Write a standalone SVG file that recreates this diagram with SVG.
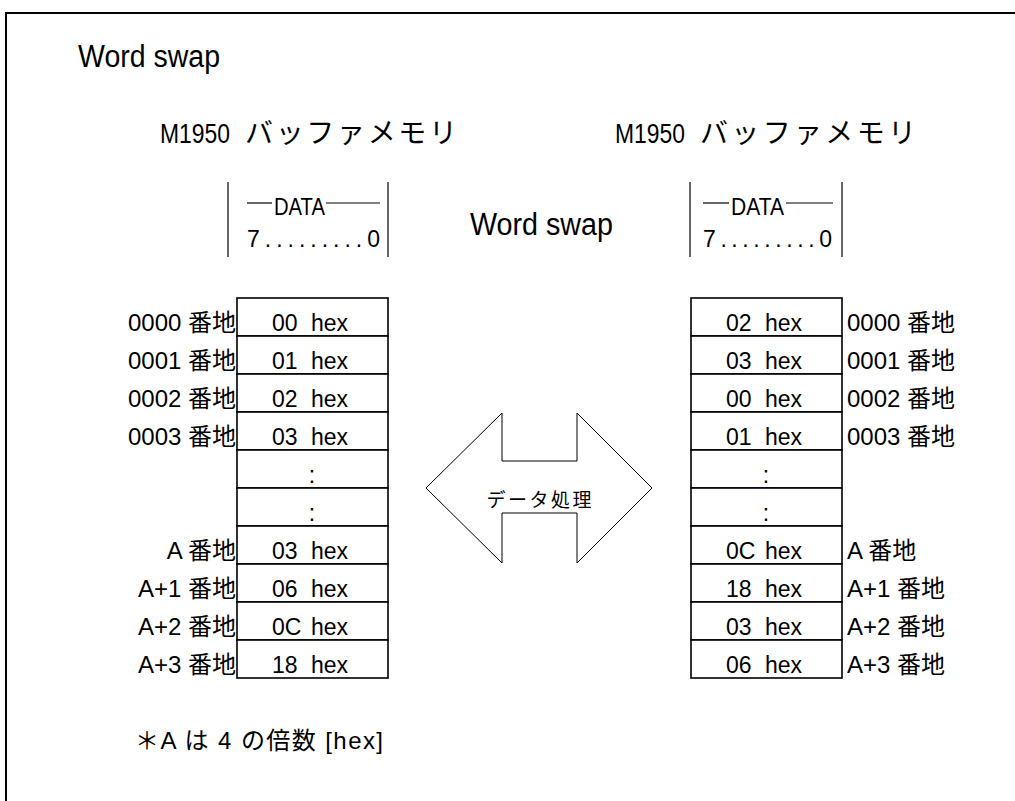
<svg xmlns="http://www.w3.org/2000/svg" width="1015" height="801" viewBox="0 0 1015 801">
<style>
text{font-family:"Liberation Sans","Noto Sans CJK JP",sans-serif;fill:#000}
.t{font-size:31px}
.h{font-size:28px}
.d{font-size:23px}
.c{font-size:23px}
.l{font-size:24px;text-anchor:end}
.r{font-size:24px}
.dot{font-size:23px;text-anchor:middle}
.jp{font-family:"Noto Sans CJK JP",sans-serif}
.cell{fill:#fff;stroke:#000;stroke-width:1.6}
.ln{stroke:#000;stroke-width:1.2;fill:none}
</style>
<rect x="0" y="0" width="1015" height="801" fill="#fff"/>
<path d="M1020,13 H6 V806" fill="none" stroke="#000" stroke-width="2"/>
<g id="title"><text class="t" x="78" y="67" textLength="142" lengthAdjust="spacingAndGlyphs">Word swap</text></g>
<g id="header-left"><text class="h" y="143"><tspan x="160" textLength="70" lengthAdjust="spacingAndGlyphs">M1950</tspan><tspan class="jp" x="245" textLength="212">バッファメモリ</tspan></text></g>
<g id="header-right"><text class="h" y="143"><tspan x="615" textLength="70" lengthAdjust="spacingAndGlyphs">M1950</tspan><tspan class="jp" x="700" textLength="216">バッファメモリ</tspan></text></g>
<g id="data-left">
<line class="ln" x1="228" y1="182" x2="228" y2="257"/>
<line class="ln" x1="388" y1="182" x2="388" y2="257"/>
<line class="ln" x1="247" y1="203" x2="272" y2="203"/>
<line class="ln" x1="326" y1="203" x2="380" y2="203"/>
<text class="d" x="274" y="215" textLength="51" lengthAdjust="spacingAndGlyphs">DATA</text>
<text class="d" x="247" y="247" textLength="133">7.........0</text>
</g>
<g id="data-right">
<line class="ln" x1="690" y1="182" x2="690" y2="257"/>
<line class="ln" x1="842" y1="182" x2="842" y2="257"/>
<line class="ln" x1="703" y1="203" x2="729" y2="203"/>
<line class="ln" x1="786" y1="203" x2="833" y2="203"/>
<text class="d" x="731" y="215" textLength="53" lengthAdjust="spacingAndGlyphs">DATA</text>
<text class="d" x="703" y="247" textLength="129">7.........0</text>
</g>
<g id="mid-label"><text class="t" x="470" y="235" textLength="143" lengthAdjust="spacingAndGlyphs">Word swap</text></g>
<g id="table-left">
<rect class="cell" x="237" y="298" width="151" height="38"/>
<rect class="cell" x="237" y="336" width="151" height="38"/>
<rect class="cell" x="237" y="374" width="151" height="38"/>
<rect class="cell" x="237" y="412" width="151" height="38"/>
<rect class="cell" x="237" y="450" width="151" height="38"/>
<rect class="cell" x="237" y="488" width="151" height="38"/>
<rect class="cell" x="237" y="526" width="151" height="38"/>
<rect class="cell" x="237" y="564" width="151" height="38"/>
<rect class="cell" x="237" y="602" width="151" height="38"/>
<rect class="cell" x="237" y="640" width="151" height="38"/>
<text class="c" y="331"><tspan x="272">00</tspan><tspan x="311">hex</tspan></text>
<text class="c" y="369"><tspan x="272">01</tspan><tspan x="311">hex</tspan></text>
<text class="c" y="407"><tspan x="272">02</tspan><tspan x="311">hex</tspan></text>
<text class="c" y="445"><tspan x="272">03</tspan><tspan x="311">hex</tspan></text>
<text class="dot" x="312" y="483">:</text>
<text class="dot" x="312" y="521">:</text>
<text class="c" y="559"><tspan x="272">03</tspan><tspan x="311">hex</tspan></text>
<text class="c" y="597"><tspan x="272">06</tspan><tspan x="311">hex</tspan></text>
<text class="c" y="635"><tspan x="272">0C</tspan><tspan x="311">hex</tspan></text>
<text class="c" y="673"><tspan x="272">18</tspan><tspan x="311">hex</tspan></text>
</g>
<g id="labels-left">
<text class="l" x="236" y="331">0000 番地</text>
<text class="l" x="236" y="369">0001 番地</text>
<text class="l" x="236" y="407">0002 番地</text>
<text class="l" x="236" y="445">0003 番地</text>
<text class="l" x="236" y="559">A 番地</text>
<text class="l" x="236" y="597">A+1 番地</text>
<text class="l" x="236" y="635">A+2 番地</text>
<text class="l" x="236" y="673">A+3 番地</text>
</g>
<g id="table-right">
<rect class="cell" x="691" y="298" width="151" height="38"/>
<rect class="cell" x="691" y="336" width="151" height="38"/>
<rect class="cell" x="691" y="374" width="151" height="38"/>
<rect class="cell" x="691" y="412" width="151" height="38"/>
<rect class="cell" x="691" y="450" width="151" height="38"/>
<rect class="cell" x="691" y="488" width="151" height="38"/>
<rect class="cell" x="691" y="526" width="151" height="38"/>
<rect class="cell" x="691" y="564" width="151" height="38"/>
<rect class="cell" x="691" y="602" width="151" height="38"/>
<rect class="cell" x="691" y="640" width="151" height="38"/>
<text class="c" y="331"><tspan x="726">02</tspan><tspan x="765">hex</tspan></text>
<text class="c" y="369"><tspan x="726">03</tspan><tspan x="765">hex</tspan></text>
<text class="c" y="407"><tspan x="726">00</tspan><tspan x="765">hex</tspan></text>
<text class="c" y="445"><tspan x="726">01</tspan><tspan x="765">hex</tspan></text>
<text class="dot" x="766" y="483">:</text>
<text class="dot" x="766" y="521">:</text>
<text class="c" y="559"><tspan x="726">0C</tspan><tspan x="765">hex</tspan></text>
<text class="c" y="597"><tspan x="726">18</tspan><tspan x="765">hex</tspan></text>
<text class="c" y="635"><tspan x="726">03</tspan><tspan x="765">hex</tspan></text>
<text class="c" y="673"><tspan x="726">06</tspan><tspan x="765">hex</tspan></text>
</g>
<g id="labels-right">
<text class="r" x="847" y="331">0000 番地</text>
<text class="r" x="847" y="369">0001 番地</text>
<text class="r" x="847" y="407">0002 番地</text>
<text class="r" x="847" y="445">0003 番地</text>
<text class="r" x="847" y="559">A 番地</text>
<text class="r" x="847" y="597">A+1 番地</text>
<text class="r" x="847" y="635">A+2 番地</text>
<text class="r" x="847" y="673">A+3 番地</text>
</g>
<g id="connectors">
<g id="arrow">
<polygon points="426,488 502,413 502,461 577,461 577,413 652,488 577,563 577,513 502,513 502,563" fill="#fff" stroke="#000" stroke-width="1"/>
<text class="jp" x="539" y="507" font-size="19" text-anchor="middle" textLength="105">データ処理</text>
</g>
</g>
<g id="note"><text x="135" y="749" font-size="24" textLength="248">＊A は 4 の倍数 [hex]</text></g>
</svg>
